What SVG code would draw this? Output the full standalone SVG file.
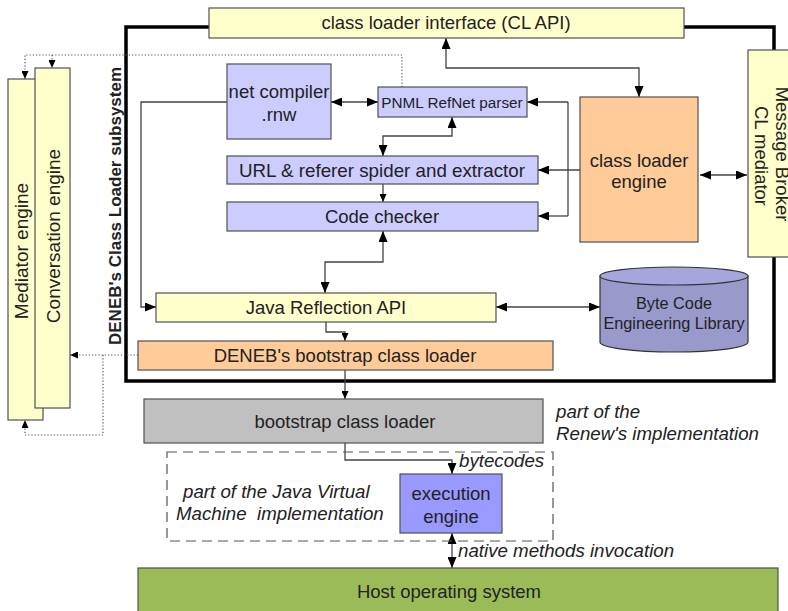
<svg xmlns="http://www.w3.org/2000/svg" width="788" height="611" viewBox="0 0 788 611">
<style>
text{font-family:"Liberation Sans",Arial,sans-serif;fill:#222;}
.lbl{font-size:18.5px;text-anchor:middle;}
.it{font-size:18.7px;font-style:italic;}
.box{stroke:#505050;stroke-width:1.2;}
.yel{fill:#FFFFCC;}
.lav{fill:#CCCCFF;}
.org{fill:#FFCC99;}
.con{fill:none;stroke:#444;stroke-width:1.3;}
.dot{fill:none;stroke:#555;stroke-width:1.2;stroke-dasharray:1.2,2;}
</style>
<defs>
<marker id="ah" markerUnits="userSpaceOnUse" markerWidth="11" markerHeight="9" refX="11" refY="4.5" orient="auto-start-reverse"><path d="M0,0 L11,4.5 L0,9 z" fill="#000"/></marker>
<marker id="as" markerUnits="userSpaceOnUse" markerWidth="8" markerHeight="7" refX="8" refY="3.5" orient="auto-start-reverse"><path d="M0,0 L8,3.5 L0,7 z" fill="#000"/></marker>
</defs>
<rect x="0" y="0" width="788" height="611" fill="#fff"/>
<!-- subsystem border -->
<rect id="subsystem" x="126" y="27" width="648" height="354" fill="none" stroke="#000" stroke-width="3.5"/>
<text transform="translate(121,206) rotate(-90)" style="font-size:17px;font-weight:bold;text-anchor:middle">DENEB's Class Loader subsystem</text>

<g id="connectors">
<path class="con" d="M446,38 V68 H639 V97" marker-start="url(#ah)" marker-end="url(#ah)"/>
<path class="con" d="M331,102 H378" marker-start="url(#ah)" marker-end="url(#ah)"/>
<path class="con" d="M568,102 H527" marker-end="url(#ah)"/>
<path class="con" d="M568,102 V216"/>
<path class="con" d="M568,216 H538" marker-end="url(#ah)"/>
<path class="con" d="M580,170 H538" marker-end="url(#ah)"/>
<path class="con" d="M700,175 H747" marker-start="url(#ah)" marker-end="url(#ah)"/>
<path class="con" d="M452,117 V136 H383 V156" marker-start="url(#ah)" marker-end="url(#ah)"/>
<path class="con" d="M383,184 V202" marker-end="url(#as)"/>
<path class="con" d="M383,231 V262 H325 V293" marker-start="url(#ah)" marker-end="url(#ah)"/>
<path class="con" d="M227,102 H141 V307 H156" marker-end="url(#ah)"/>
<path class="con" d="M496,307 H600" marker-start="url(#ah)" marker-end="url(#ah)"/>
<path class="con" d="M326,322 V332 H345 V341" marker-end="url(#as)"/>
<path class="con" d="M345,370 V399" marker-end="url(#as)"/>
<path class="con" d="M345,443 V460 H452 V474" marker-end="url(#ah)"/>
<path class="con" d="M452,533 V568" marker-start="url(#ah)" marker-end="url(#ah)"/>
<path class="dot" d="M402,87 V55 H25 V79" marker-end="url(#as)"/>
<path class="dot" d="M52,55 V68" marker-end="url(#as)"/>
<path class="dot" d="M138,355 H70" marker-end="url(#as)"/>
<path class="dot" d="M103,355 V435 H25 V420" marker-end="url(#as)"/>
</g>

<g id="mediator-engine">
<rect class="box yel" x="8" y="79" width="35" height="341"/>
<text transform="translate(28,251) rotate(-90)" class="lbl" style="font-size:19px">Mediator engine</text>
</g>
<g id="conversation-engine">
<rect class="box yel" x="35" y="68" width="35" height="340"/>
<text transform="translate(60,236) rotate(-90)" class="lbl" style="font-size:19px">Conversation engine</text>
</g>
<g id="cl-api">
<rect class="box yel" x="209" y="8" width="475" height="30"/>
<text x="446" y="29" class="lbl">class loader interface (CL API)</text>
</g>
<g id="net-compiler">
<rect class="box lav" x="227" y="64" width="104" height="75"/>
<text x="279" y="98" class="lbl">net compiler</text>
<text x="279" y="121" class="lbl">.rnw</text>
</g>
<g id="pnml-parser">
<rect class="box lav" x="378" y="87" width="149" height="30"/>
<text x="452" y="108" class="lbl" style="font-size:15.3px">PNML RefNet parser</text>
</g>
<g id="url-spider">
<rect class="box lav" x="227" y="156" width="311" height="28"/>
<text x="382" y="177" class="lbl" textLength="286" lengthAdjust="spacingAndGlyphs">URL &amp; referer spider and extractor</text>
</g>
<g id="code-checker">
<rect class="box lav" x="227" y="202" width="311" height="29"/>
<text x="382" y="223" class="lbl">Code checker</text>
</g>
<g id="class-loader-engine">
<rect class="box org" x="580" y="97" width="118" height="145"/>
<text x="639" y="167" class="lbl">class loader</text>
<text x="639" y="188" class="lbl">engine</text>
</g>
<g id="message-broker">
<rect class="box yel" x="748" y="50" width="45" height="207"/>
<text transform="translate(776,154) rotate(90)" class="lbl">Message Broker</text>
<text transform="translate(755,156) rotate(90)" class="lbl">CL mediator</text>
</g>
<g id="java-reflection">
<rect class="box yel" x="156" y="293" width="340" height="29"/>
<text x="326" y="314" class="lbl">Java Reflection API</text>
</g>
<g id="bcel">
<path d="M600,276 V342 A74,10 0 0 0 748,342 V276 Z" fill="#9999CC" stroke="#333" stroke-width="1.2"/>
<ellipse cx="674" cy="276" rx="74" ry="9" fill="#A6A6DD" stroke="#333" stroke-width="1.2"/>
<text x="674" y="309" class="lbl" style="font-size:16.3px">Byte Code</text>
<text x="674" y="329" class="lbl" style="font-size:16.3px">Engineering Library</text>
</g>
<g id="deneb-bootstrap">
<rect class="box org" x="138" y="341" width="415" height="29"/>
<text x="345" y="362" class="lbl">DENEB's bootstrap class loader</text>
</g>
<g id="bootstrap-class-loader">
<rect class="box" x="144" y="399" width="399" height="44" fill="#C0C0C0"/>
<text x="345" y="428" class="lbl">bootstrap class loader</text>
<text x="556" y="418" class="it">part of the</text>
<text x="556" y="440" class="it">Renew's implementation</text>
</g>
<g id="jvm">
<rect x="167" y="452" width="386" height="89" fill="none" stroke="#555" stroke-width="1.2" stroke-dasharray="10,6"/>
<text x="459" y="467" class="it">bytecodes</text>
<text x="183" y="498" class="it">part of the Java Virtual</text>
<text x="176" y="520" class="it" xml:space="preserve">Machine  implementation</text>
</g>
<g id="execution-engine">
<rect class="box" x="400" y="474" width="102" height="59" fill="#9999FF"/>
<text x="451" y="500" class="lbl">execution</text>
<text x="451" y="523" class="lbl">engine</text>
</g>
<text x="458" y="557" class="it">native methods invocation</text>
<g id="host-os">
<rect class="box" x="138" y="568" width="640" height="50" fill="#9BBB59"/>
<text x="449" y="598" class="lbl">Host operating system</text>
</g>
</svg>
